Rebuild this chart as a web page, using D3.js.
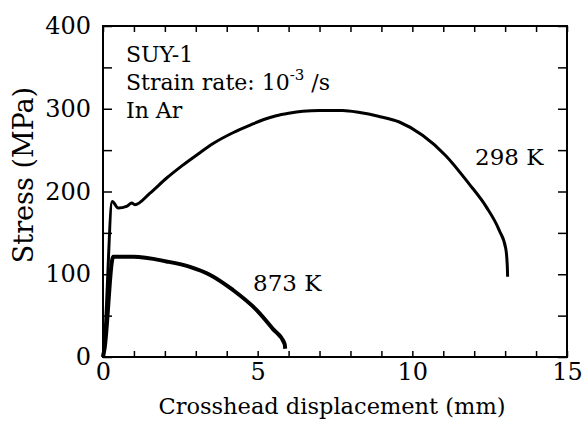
<html>
<head>
  <script src="https://d3js.org/d3.v7.min.js"></script>
  <style>
    body { margin: 0; background: #fff; }
  </style>
</head>
<body>
  <svg id="chart" width="582" height="421"></svg>
  <script>
    // 298 K curve (crosshead displacement mm, stress MPa)
    const disp298 = [0, 0.05, 0.3, 0.49, 0.76, 0.93, 1.03, 1.52, 2.05, 2.55, 3.1, 3.56, 4.2, 4.74, 5.2, 5.6, 6.0, 6.46, 7.0, 7.75, 8.3, 8.9, 9.58, 10.33, 11.09, 11.84, 12.38, 12.81, 13.02, 13.07, 13.08];
    const stress298 = [0, 20, 188, 180, 182, 186, 184, 198, 216, 231, 246, 258, 271, 280, 287, 291.5, 294.5, 297, 298, 298, 295.5, 291, 284, 268, 243, 209, 182, 153, 131, 110, 97];

    // 873 K curve
    const disp873 = [0, 0.05, 0.33, 0.98, 2.05, 2.81, 3.45, 4.2, 4.96, 5.49, 5.87, 5.89];
    const stress873 = [0, 10, 121, 121, 115.5, 109, 99.5, 81, 57, 34, 16, 10];

    const xTicks = [0, 1, 2, 3, 4, 5, 6, 7, 8, 9, 10, 11, 12, 13, 14, 15];
    const xLabels = [0, 5, 10, 15];
    const yTicks = [0, 50, 100, 150, 200, 250, 300, 350, 400];
    const yLabels = [0, 100, 200, 300, 400];

    const serif = "DejaVu Serif";

    const svg = d3.select("svg#chart").attr("font-family", serif);
    const margin = { top: 26, right: 15, bottom: 64, left: 103 };
    const width = 582 - margin.left - margin.right;
    const height = 421 - margin.top - margin.bottom;

    const x = d3.scaleLinear().domain([0, 15]).range([0, width]);
    const y = d3.scaleLinear().domain([0, 400]).range([height, 0]);

    const g = svg.append("g").attr("transform", `translate(${margin.left},${margin.top})`);

    // inward ticks on all four sides
    g.append("g").attr("transform", `translate(0,${height})`)
      .call(d3.axisBottom(x).tickValues(xTicks).tickFormat("").tickSizeInner(-6).tickSizeOuter(0));
    g.append("g")
      .call(d3.axisTop(x).tickValues(xTicks).tickFormat("").tickSizeInner(-6).tickSizeOuter(0));
    g.append("g")
      .call(d3.axisLeft(y).tickValues(yTicks).tickFormat("").tickSizeInner(-9).tickSizeOuter(0));
    g.append("g").attr("transform", `translate(${width},0)`)
      .call(d3.axisRight(y).tickValues(yTicks).tickFormat("").tickSizeInner(-9).tickSizeOuter(0));

    g.selectAll(".domain").remove();
    g.selectAll(".tick line").attr("stroke", "#000").attr("stroke-width", 1.5);

    // tick labels
    const xl = g.append("g").attr("transform", `translate(0,${height})`)
      .call(d3.axisBottom(x).tickValues(xLabels).tickSize(0).tickPadding(6));
    const yl = g.append("g")
      .call(d3.axisLeft(y).tickValues(yLabels).tickSize(0).tickPadding(12));
    [xl, yl].forEach(a => {
      a.attr("font-family", serif).attr("font-size", 24);
      a.select(".domain").remove();
      a.selectAll("text").attr("fill", "#000");
    });

    // frame
    g.append("rect")
      .attr("width", width).attr("height", height)
      .attr("fill", "none").attr("stroke", "#000").attr("stroke-width", 2);

    const line = d3.line().x(d => x(d[0])).y(d => y(d[1])).curve(d3.curveMonotoneX);

    g.append("path")
      .datum(disp298.map((d, i) => [d, stress298[i]]))
      .attr("d", line)
      .attr("fill", "none").attr("stroke", "#000").attr("stroke-width", 3)
      .attr("stroke-linejoin", "round");

    g.append("path")
      .datum(disp873.map((d, i) => [d, stress873[i]]))
      .attr("d", line)
      .attr("fill", "none").attr("stroke", "#000").attr("stroke-width", 4)
      .attr("stroke-linejoin", "round");

    // annotations
    svg.append("text").attr("x", 126).attr("y", 62).attr("font-size", 22).text("SUY-1");
    const sr = svg.append("text").attr("x", 126).attr("y", 90).attr("font-size", 22);
    sr.append("tspan").text("Strain rate: 10");
    sr.append("tspan").attr("font-size", 15).attr("dy", -10).text("-3");
    sr.append("tspan").attr("dy", 10).text(" /s");
    svg.append("text").attr("x", 126).attr("y", 118).attr("font-size", 22).text("In Ar");

    svg.append("text").attr("x", 475).attr("y", 165).attr("font-size", 23).text("298 K");
    svg.append("text").attr("x", 253).attr("y", 291).attr("font-size", 23).text("873 K");

    // axis titles
    svg.append("text")
      .attr("text-anchor", "middle")
      .attr("transform", `translate(332,414)`)
      .attr("font-size", 22.5)
      .text("Crosshead displacement (mm)");

    svg.append("text")
      .attr("text-anchor", "middle")
      .attr("transform", `translate(33,175) rotate(-90)`)
      .attr("font-size", 27)
      .text("Stress (MPa)");
  </script>
</body>
</html>
